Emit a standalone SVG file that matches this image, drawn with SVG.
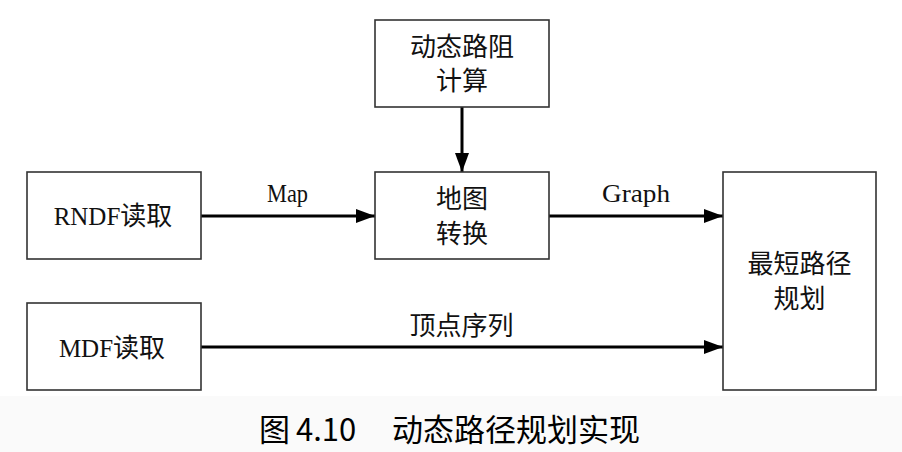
<svg xmlns="http://www.w3.org/2000/svg" width="902" height="452" viewBox="0 0 902 452">
<defs>
<marker id="ah" markerUnits="userSpaceOnUse" markerWidth="20" markerHeight="16" refX="19" refY="7" orient="auto">
<path d="M0,0 L19,7 L0,14 Z" fill="#000"/>
</marker>
<style>
.box{fill:#fff;stroke:#333;stroke-width:1.6}
.t{font-family:"Noto Sans CJK SC","Liberation Serif",serif;font-size:26px;fill:#111;text-anchor:middle}
.lat{font-family:"Liberation Serif",serif;font-size:25px}
.lbl{font-family:"Liberation Serif",serif;font-size:26px;fill:#111;text-anchor:middle}
.cap{font-family:"Noto Sans CJK SC","Noto Sans",sans-serif;font-size:31px;fill:#000}
.conn{stroke:#000;stroke-width:3;fill:none;marker-end:url(#ah)}
</style>
</defs>
<rect width="902" height="452" fill="#fff"/>
<rect x="0" y="396" width="902" height="56" fill="#fafafa"/>
<g id="connectors">
<line class="conn" x1="462" y1="107" x2="462" y2="172"/>
<line class="conn" x1="201" y1="216" x2="375" y2="216"/>
<line class="conn" x1="549" y1="216" x2="723" y2="216"/>
<line class="conn" x1="201" y1="347" x2="723" y2="347"/>
<text class="lbl" x="287.5" y="202" textLength="41" lengthAdjust="spacingAndGlyphs">Map</text>
<text class="lbl" x="636" y="202" textLength="68" lengthAdjust="spacingAndGlyphs">Graph</text>
<text class="t" x="461.5" y="335">顶点序列</text>
</g>
<g id="dynamic-cost">
<rect class="box" x="375" y="20" width="174" height="87"/>
<text class="t" x="462" y="56">动态路阻</text>
<text class="t" x="462" y="90">计算</text>
</g>
<g id="rndf">
<rect class="box" x="27" y="172" width="174" height="87"/>
<text class="t" x="113" y="225"><tspan class="lat">RNDF</tspan>读取</text>
</g>
<g id="map-convert">
<rect class="box" x="375" y="172" width="174" height="87"/>
<text class="t" x="462" y="208">地图</text>
<text class="t" x="462" y="243">转换</text>
</g>
<g id="shortest-path">
<rect class="box" x="723" y="172" width="153" height="218"/>
<text class="t" x="799.5" y="273">最短路径</text>
<text class="t" x="799.5" y="308">规划</text>
</g>
<g id="mdf">
<rect class="box" x="27" y="303" width="174" height="87"/>
<text class="t" x="112" y="357"><tspan class="lat">MDF</tspan>读取</text>
</g>
<text class="cap" y="441"><tspan x="259">图</tspan><tspan x="296">4.10</tspan><tspan x="392">动态路径规划实现</tspan></text>
</svg>
